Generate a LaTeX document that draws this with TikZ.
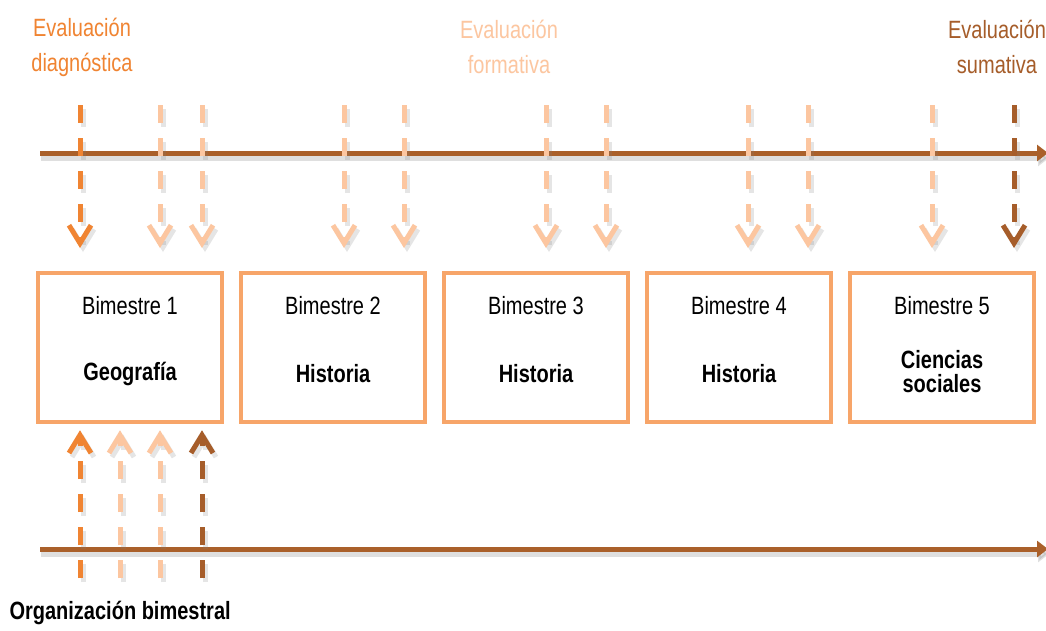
\documentclass[tikz,border=0pt]{standalone}
\usepackage{fontspec}
\setmainfont{Liberation Sans}[FakeStretch=0.8]
\usetikzlibrary{arrows.meta}

\definecolor{diagcol}{RGB}{240,132,50}
\definecolor{formcol}{RGB}{252,198,160}
\definecolor{sumcol}{RGB}{166,93,42}
\definecolor{boxcol}{RGB}{247,165,105}
\definecolor{axiscol}{RGB}{170,96,42}

\tikzset{
	axisline/.style={line width=5pt, draw=axiscol, -{Triangle[length=11pt,width=16pt]},
		preaction={draw=black!50, line width=5pt, opacity=.25, transform canvas={shift={(1pt,-5pt)}}}},
	evalarrow/.style={line width=5pt, dash pattern=on 18pt off 15pt, -{Straight Barb[length=18pt,width=22pt]},
		preaction={draw=black!50, line width=5pt, dash pattern=on 18pt off 15pt, opacity=.2, transform canvas={shift={(3pt,-4pt)}}}},
	bimbox/.style={draw=boxcol, line width=4.5pt, minimum width=184pt, minimum height=149pt, inner sep=0pt},
	bimtext/.style={font=\fontsize{25}{25}\selectfont},
	subjtext/.style={font=\bfseries\fontsize{25}{24}\selectfont, align=center},
	evaltext/.style={font=\fontsize{25}{35}\selectfont, align=center}
}

\begin{document}
\begin{tikzpicture}[x=1pt,y=-1pt]
	\useasboundingbox[fill=white] (0,0) rectangle (1046,630);
	
	% time lines
	\coordinate (ta) at (40,153);
	\coordinate (tb) at (1048,153);
	\coordinate (ba) at (40,549);
	\coordinate (bb) at (1048,549);
	\draw[axisline] (ta) -- (tb);
	\draw[axisline] (ba) -- (bb);
	
	% evaluations
	\node[evaltext, text=diagcol] (diag) at (82,47) {Evaluación\\diagnóstica};
	\node[evaltext, text=formcol] (form) at (509,47) {Evaluación\\formativa};
	\node[evaltext, text=sumcol] (suma) at (997,47) {Evaluación\\sumativa};
	
	\foreach \x/\c in {80/diagcol, 160/formcol, 202/formcol, 344/formcol, 404/formcol, 546/formcol, 606/formcol, 748/formcol, 808/formcol, 932/formcol, 1014/sumcol}{
		\coordinate (t\x) at (\x,105);
		\coordinate (h\x) at (\x,248);
		\draw[evalarrow, draw=\c] (t\x) -- (h\x);
	}
	
	% bimesters
	\node[bimbox] (b1) at (130,347.5) {};
	\node[bimbox] (b2) at (333,347.5) {};
	\node[bimbox] (b3) at (536,347.5) {};
	\node[bimbox] (b4) at (739,347.5) {};
	\node[bimbox] (b5) at (942,347.5) {};
	
	\foreach \i in {1,...,5}{
		\node[bimtext] (n\i) at ([yshift=-35pt]b\i.north) {Bimestre \i};
	}
	\node[subjtext] (s1) at ([yshift=-103pt]b1.north) {Geografía};
	\node[subjtext] (s2) at ([yshift=-103pt]b2.north) {Historia};
	\node[subjtext] (s3) at ([yshift=-103pt]b3.north) {Historia};
	\node[subjtext] (s4) at ([yshift=-103pt]b4.north) {Historia};
	\node[subjtext] (s5) at ([yshift=-101pt]b5.north) {Ciencias\\sociales};
	
	\foreach \x/\c in {80/diagcol, 120/formcol, 160/formcol, 202/sumcol}{
		\coordinate (o\x) at (\x,578);
		\draw[evalarrow, draw=\c, shorten >=6pt] (o\x) -- (o\x |- b1.south);
	}
	
	\node[font=\bfseries\fontsize{25}{25}\selectfont, anchor=west] (org) at (6,613) {Organización bimestral};
	
\end{tikzpicture}
\end{document}
